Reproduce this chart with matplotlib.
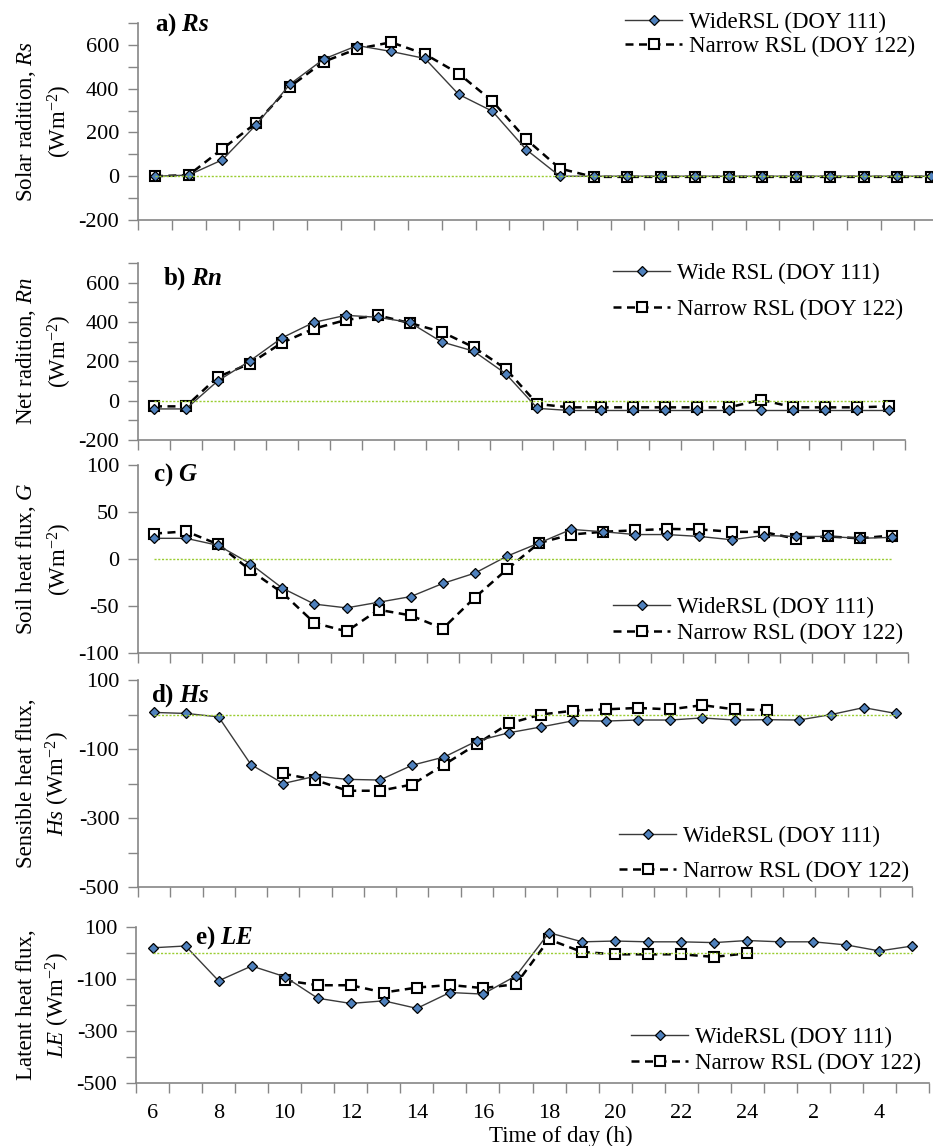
import numpy as np
import matplotlib
matplotlib.use('Agg')
import matplotlib.pyplot as plt

plt.rcParams['font.family'] = ['Liberation Serif', 'DejaVu Serif']
plt.rcParams['axes.unicode_minus'] = False
plt.rcParams['mathtext.fontset'] = 'custom'
plt.rcParams['mathtext.rm'] = 'Liberation Serif'
plt.rcParams['mathtext.it'] = 'Liberation Serif:italic'
plt.rcParams['mathtext.bf'] = 'Liberation Serif:bold'
plt.rcParams['mathtext.bfit'] = 'Liberation Serif:bold:italic'

# ---------------- data ----------------
hour_labels = ['6', '8', '10', '12', '14', '16', '18', '20', '22', '24', '2', '4']
nan = np.nan

rs_wide = [0, 5, 75, 235, 420, 535, 597, 570, 538, 374, 297, 122,
           0, 0, 0, 0, 0, 0, 0, 0, 0, 0, 0, 0]
rs_narrow = [0, 5, 125, 243, 409, 523, 582, 612, 558, 469, 343, 169,
             35, -3, -3, -3, -3, -3, -3, -3, -3, -3, -3, -3]

rn_wide = [-42, -42, 101, 202, 319, 398, 434, 424, 398, 299, 252, 138,
           -39, -50, -50, -50, -50, -50, -50, -50, -50, -50, -50, -50]
rn_narrow = [-29, -29, 121, 188, 294, 366, 410, 434, 395, 350, 272, 163,
             -17, -34, -34, -34, -34, -34, -34, 5, -34, -34, -34, -29]

g_wide = [22, 22, 14.5, -5, -31, -48, -52, -46, -40, -26, -15, 3,
          17, 31.5, 29, 26, 26, 24, 20.5, 25, 24, 24, 22, 23]
g_narrow = [27, 29.4, 15.6, -12, -36, -68, -77, -54, -60, -74, -41, -11,
            17, 26, 29, 30.5, 32, 31.5, 29, 28.7, 21.6, 24, 22, 25]

hs_wide = [6, 3, -7, -145, -200, -179, -188, -190, -147, -123, -77, -53,
           -36, -18, -19, -16, -16, -10, -16, -15, -16, 0, 20, 3]
hs_narrow = [nan, nan, nan, nan, -171, -190, -221, -221, -203, -145, -86, -26,
             0, 11, 15, 19, 15, 27, 15, 13, nan, nan, nan, nan]

le_wide = [20, 27, -107, -50, -91, -174, -194, -184, -213, -152, -158, -88,
           78, 43, 46, 43, 43, 40, 48, 43, 43, 31, 8, 27]
le_narrow = [nan, nan, nan, nan, -105, -124, -124, -152, -133, -123, -135, -120,
             52, 4, -5, -5, -5, -15, -1, nan, nan, nan, nan, nan]

wide_label = 'WideRSL (DOY 111)'
wide_label_b = 'Wide RSL (DOY 111)'
narrow_label = 'Narrow RSL (DOY 122)'

# ---------------- layout / styles ----------------
W, H = 933, 1146
fig = plt.figure(figsize=(W / 100, H / 100), dpi=100)

GRAY = '#868686'
ZERO_C = '#9ACD32'
BLUE = '#4F81BD'
TICK_FS = 16
LEG_FS = 16.5

panels = [
    dict(wide=rs_wide, narrow=rs_narrow, box=(138, 23, 948, 220), ylim=(-200, 700),
         major=[-200, 0, 200, 400, 600], minor=np.arange(-200, 701, 100),
         ylabel="Solar radition, $\\mathit{Rs}$\n(Wm$^{-2}$)",
         title=r'$\mathbf{a)}\ \mathbfit{Rs}$', tpos=(155, 25),
         wl=wide_label, leg=(625, 12, 0.1)),
    dict(wide=rn_wide, narrow=rn_narrow, box=(138, 263, 905, 440), ylim=(-200, 700),
         major=[-200, 0, 200, 400, 600], minor=np.arange(-200, 701, 100),
         ylabel="Net radition, $\\mathit{Rn}$\n(Wm$^{-2}$)",
         title=r'$\mathbf{b)}\ \mathbfit{Rn}$', tpos=(163, 279),
         wl=wide_label_b, leg=(613, 263, 0.65)),
    dict(wide=g_wide, narrow=g_narrow, box=(138, 465, 908, 653), ylim=(-100, 100),
         major=[-100, -50, 0, 50, 100], minor=[],
         ylabel="Soil heat flux, $\\mathit{G}$\n(Wm$^{-2}$)",
         title=r'$\mathbf{c)}\ \mathbfit{G}$', tpos=(153, 475),
         wl=wide_label, leg=(613, 597, 0.2)),
    dict(wide=hs_wide, narrow=hs_narrow, box=(138, 680, 912, 887), ylim=(-500, 100),
         major=[-500, -300, -100, 100], minor=np.arange(-500, 101, 100),
         ylabel="Sensible heat flux,\n$\\mathit{Hs}$ (Wm$^{-2}$)",
         title=r'$\mathbf{d)}\ \mathbfit{Hs}$', tpos=(151, 696),
         wl=wide_label, leg=(619, 826, 0.6)),
    dict(wide=le_wide, narrow=le_narrow, box=(136, 927, 929, 1083), ylim=(-500, 100),
         major=[-500, -300, -100, 100], minor=np.arange(-500, 101, 100),
         ylabel="Latent heat flux,\n$\\mathit{LE}$ (Wm$^{-2}$)",
         title=r'$\mathbf{e)}\ \mathbfit{LE}$', tpos=(195, 938),
         wl=wide_label, leg=(631, 1027, 0.2)),
]

x = np.arange(24)

for i, p in enumerate(panels):
    l, t, r, b = p['box']
    ax = fig.add_axes([l / W, 1 - b / H, (r - l) / W, (b - t) / H])
    ax.patch.set_alpha(0)
    ax.plot(x, np.zeros(24), color=ZERO_C, lw=1.0, ls=(0, (1.5, 1.2)), zorder=4)
    hn, = ax.plot(x, p['narrow'], color='black', lw=1.8, dashes=(3.2, 2.2),
                  marker='s', ms=6.5, mfc='white', mec='black', mew=1.5, zorder=2)
    hw, = ax.plot(x, p['wide'], color='#3a3a3a', lw=1.0,
                  marker='D', ms=5.3, mfc=BLUE, mec='black', mew=0.9, zorder=3)
    ax.set_xlim(-0.5, 23.5)
    ax.set_ylim(*p['ylim'])
    ax.set_xticks(np.arange(-0.5, 24, 1))
    ax.set_xticklabels([])
    ax.tick_params(axis='x', which='major', length=7, width=1, color=GRAY, direction='out')
    if i == 4:
        ax.set_xticks(np.arange(0, 24, 2), minor=True)
        ax.set_xticklabels(hour_labels, minor=True)
        ax.tick_params(axis='x', which='minor', length=0, pad=15, labelsize=TICK_FS)
    ax.set_yticks(p['major'])
    ax.set_yticks(p['minor'], minor=True)
    ax.tick_params(axis='y', which='both', length=7, width=1, color=GRAY,
                   direction='out', labelsize=TICK_FS, pad=6.5)
    for s in ['top', 'right']:
        ax.spines[s].set_visible(False)
    for s in ['left', 'bottom']:
        ax.spines[s].set_color(GRAY)
        ax.spines[s].set_linewidth(1.2)

    lx, ly, lsp = p['leg']
    ax.legend([hw, hn], [p['wl'], narrow_label], loc='upper left',
              bbox_to_anchor=(lx / W, 1 - ly / H), bbox_transform=fig.transFigure,
              frameon=False, fontsize=LEG_FS, handlelength=2.5, handletextpad=0.3,
              labelspacing=lsp, borderpad=0, borderaxespad=0)

    fig.text(44 / W, 1 - ((t + b) / 2) / H, p['ylabel'], rotation=90,
             ha='center', va='center', multialignment='center',
             fontsize=16.5, linespacing=1.35)
    tx, ty = p['tpos']
    fig.text(tx / W, 1 - ty / H, p['title'], ha='left', va='center', fontsize=18)

fig.text(561 / W, 1 - 1136 / H, 'Time of day (h)', ha='center', va='center', fontsize=16.5)

fig.savefig('out.png', dpi=100)
